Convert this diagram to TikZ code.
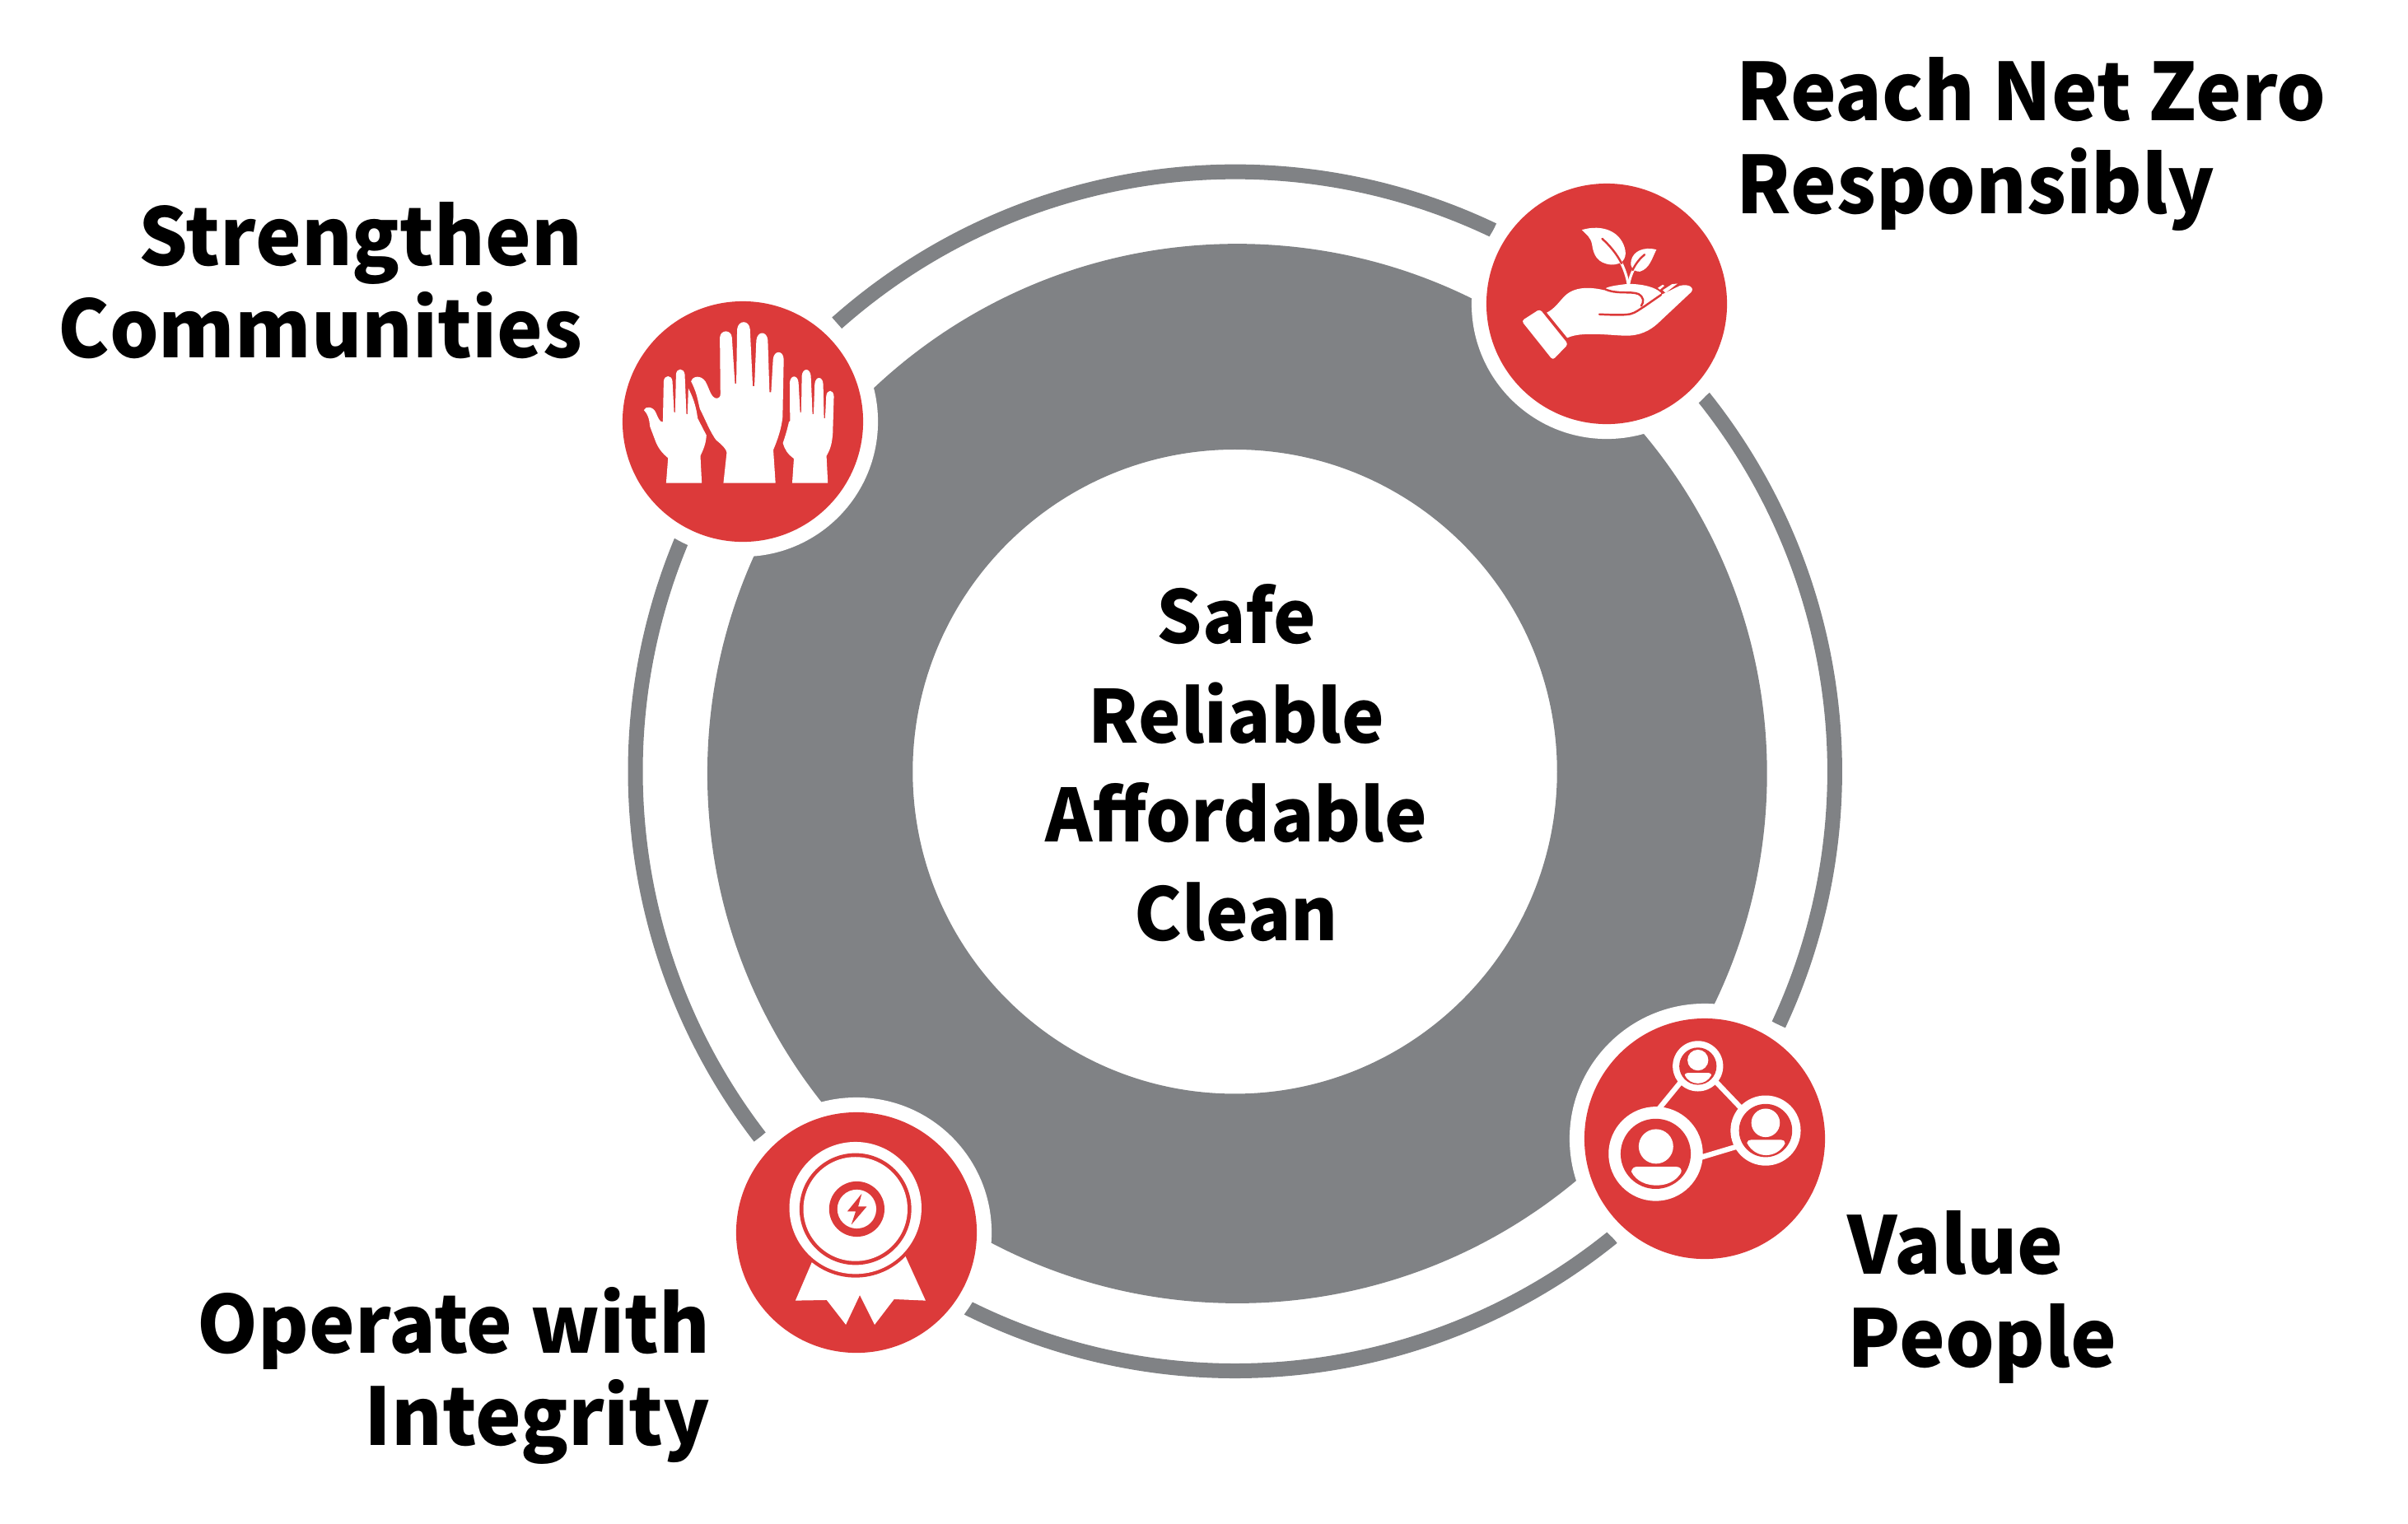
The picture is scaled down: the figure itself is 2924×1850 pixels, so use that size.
\documentclass[tikz,border=0pt]{standalone}
\usepackage{fontspec}
\setmainfont{Noto Sans CJK JP}
\newfontfamily\labelfam{Noto Sans CJK JP}[FakeStretch=0.975]
\newfontfamily\corefam{Noto Sans CJK JP}[FakeStretch=0.98]
\definecolor{iconred}{HTML}{DC3A3A}
\definecolor{ringgray}{HTML}{808285}
\tikzset{
  labeltext/.style={inner sep=0pt,font=\labelfam\fontsize{27.4pt}{31.9pt}\selectfont\bfseries},
  centertext/.style={inner sep=0pt,align=center,font=\corefam\fontsize{25.2pt}{34.2pt}\selectfont\bfseries},
  icon/.style={x=0.003333cm,y=-0.003333cm},
  ic/.style={fill=white,draw=none},
  redfill/.style={fill=iconred,draw=none},
  cut/.style={draw=iconred,line cap=round,line join=round,line width=0.7pt},
  stem/.style={draw=white,line cap=round,line width=0.9pt},
  link/.style={draw=white,line width=1.8pt},
  thinring/.style={draw=ringgray,line width=0.18cm},
  badge/.style={fill=iconred,draw=none},
  halo/.style={fill=white,draw=none}
}
\begin{document}
\begin{tikzpicture}[x=0.01cm,y=-0.01cm]
\useasboundingbox (0,0) rectangle (2924,1850);
\coordinate (C) at (1499.7,936.8);
\coordinate (Cout) at (1502.3,939.5);
\coordinate (Cin) at (1499.5,937.2);
\coordinate (TR) at (1951,369);
\coordinate (TL) at (902,512);
\coordinate (BL) at (1040,1497);
\coordinate (BR) at (2070,1383);
% main ring
\fill[ringgray,even odd rule] (Cout) circle[radius=6.43cm] (Cin) circle[radius=3.91cm];
% thin outer ring segments
\draw[thinring] (C) ++(64.5:7.278cm) arc[start angle=64.5,end angle=131.6,radius=7.278cm];
\draw[thinring] (C) ++(-25:7.278cm) arc[start angle=-25,end angle=38.6,radius=7.278cm];
\draw[thinring] (C) ++(-116.5:7.278cm) arc[start angle=-116.5,end angle=-51,radius=7.278cm];
\draw[thinring] (C) ++(157.4:7.278cm) arc[start angle=157.4,end angle=217.6,radius=7.278cm];
% badges
\foreach \p in {TR,TL,BL,BR}{
  \fill[halo] (\p) circle[radius=1.64cm];
  \fill[badge] (\p) circle[radius=1.46cm];
}
% --- hand with sprout
\begin{scope}[shift={(1780,210)},icon]
\fill[ic,rounded corners=1pt] (203,540) -- (270,497) -- (373,625) -- (317,683) -- cycle;
\fill[ic] (295,510) .. controls (325,495) and (340,470) .. (360,450)
  .. controls (395,415) and (450,415) .. (505,428)
  .. controls (505,415) and (550,410) .. (590,405)
  .. controls (640,405) and (690,415) .. (712,438)
  -- (712,445) -- (780,412) .. controls (815,403) and (835,420) .. (822,435)
  -- (710,540) .. controls (670,580) and (630,595) .. (580,594)
  .. controls (520,592) and (420,578) .. (370,602) -- cycle;
\draw[cut] (505,423) .. controls (550,445) and (600,430) .. (630,442)
  .. controls (650,455) and (650,470) .. (640,485);
\draw[cut] (487,516) .. controls (530,518) and (575,520) .. (600,515)
  .. controls (620,510) and (630,500) .. (650,488) -- (712,445);
\fill[ic] (700,420) -- (718,408) -- (724,412) -- (708,426) -- cycle;
\fill[ic] (718,428) -- (752,406) -- (772,404) -- (728,438) -- cycle;
% leaves
\fill[ic] (423,208) .. controls (500,185) and (570,215) .. (582,285)
  .. controls (585,315) and (570,335) .. (530,335)
  .. controls (480,330) and (465,300) .. (460,260)
  .. controls (455,235) and (440,225) .. cycle;
\fill[ic] (695,280) .. controls (650,268) and (610,285) .. (603,320)
  .. controls (598,345) and (610,360) .. (635,360)
  .. controls (670,350) and (680,310) .. cycle;
\draw[stem] (565,325) .. controls (578,350) and (588,380) .. (592,405);
\draw[stem] (612,352) .. controls (604,368) and (598,385) .. (594,405);
\draw[cut] (497,240) .. controls (525,265) and (550,295) .. (568,330);
\draw[cut] (652,298) .. controls (635,312) and (620,330) .. (608,355);
\end{scope}
% --- raised hands
\begin{scope}[shift={(740,350)},icon]
\fill[ic] (298,340) .. controls (305,318) and (335,318) .. (350,340)
  .. controls (365,365) and (370,402) .. (392,402) .. controls (402,400) and (405,395) .. (405,385)
  -- (403,180) .. controls (405,150) and (445,150) .. (447,180) -- (458,348) -- (463,348)
  -- (466,150) .. controls (470,115) and (510,115) .. (513,150) -- (523,358) -- (529,358)
  -- (536,190) .. controls (540,155) and (575,155) .. (578,190) -- (584,380) -- (590,380)
  -- (597,260) .. controls (600,225) and (635,225) .. (636,260) -- (632,470)
  .. controls (628,510) and (615,550) .. (598,590) -- (606,711) -- (416,711) -- (428,600)
  .. controls (428,590) and (410,570) .. (390,555) .. controls (370,530) and (350,480) .. (330,440)
  .. controls (320,400) and (320,385) .. cycle;
\fill[ic] (126,445) .. controls (130,430) and (160,430) .. (170,455)
  .. controls (178,475) and (185,490) .. (195,488)
  -- (198,340) .. controls (200,315) and (228,315) .. (230,340) -- (236,453) -- (240,453)
  -- (243,315) .. controls (245,290) and (272,290) .. (275,315) -- (281,460) -- (285,460)
  -- (288,365) .. controls (300,390) and (315,420) .. (322,475) -- (354,537)
  .. controls (352,570) and (342,590) .. (332,612) -- (337,711) -- (207,711) -- (214,620)
  .. controls (190,600) and (175,580) .. (165,550) -- (148,505) .. controls (145,475) and (140,460) .. cycle;
\fill[ic] (633,565) .. controls (645,530) and (650,510) .. (655,488) -- (659,485)
  -- (658,345) .. controls (660,315) and (688,315) .. (690,345) -- (696,453) -- (700,453)
  -- (702,320) .. controls (705,290) and (732,290) .. (735,320) -- (741,460) -- (745,460)
  -- (749,350) .. controls (752,320) and (778,320) .. (780,350) -- (783,475) -- (787,475)
  -- (791,395) .. controls (793,368) and (818,368) .. (819,395) -- (815,530)
  .. controls (812,570) and (805,590) .. (792,612) -- (797,711) -- (667,711) -- (673,622)
  .. controls (650,605) and (640,590) .. cycle;
\end{scope}
% --- award rosette
\begin{scope}[shift={(880,1330)},icon]
\fill[ic] (318,610) -- (258,750) -- (372,748) -- (442,838) -- (493,730) -- (547,838) -- (618,745) -- (733,750) -- (658,585) -- cycle;
\fill[redfill] (477,412) circle[radius=254];
\fill[ic] (477,412) circle[radius=241];
\fill[redfill] (477,416) circle[radius=204];
\fill[ic] (477,416) circle[radius=190];
\fill[redfill] (482,416) circle[radius=101];
\fill[ic] (482,416) circle[radius=71];
\fill[redfill] (500,360) -- (447,425) -- (478,425) -- (462,473) -- (518,407) -- (487,407) -- cycle;
\end{scope}
% --- people network
\begin{scope}[shift={(1900,1215)},icon]
\coordinate (pa) at (332,560);
\coordinate (pb) at (733,475);
\coordinate (pc) at (486,240);
\coordinate (ac1) at (340,400);
\coordinate (ac2) at (430,290);
\coordinate (cb1) at (545,290);
\coordinate (cb2) at (650,400);
\coordinate (ab1) at (490,575);
\coordinate (ab2) at (640,530);
\draw[link] (ac1) -- (ac2);
\draw[link] (cb1) -- (cb2);
\draw[link] (ab1) -- (ab2);
\fill[ic] (pa) circle[radius=172];
\fill[redfill] (pa) circle[radius=128];
\fill[ic] (333,533) circle[radius=63];
\fill[ic] (243,625) .. controls (245,612) and (255,607) .. (265,607) -- (405,607)
  .. controls (420,607) and (428,615) .. (425,628) .. controls (405,662) and (370,675) .. (335,675)
  .. controls (300,675) and (262,662) .. cycle;
\fill[ic] (pb) circle[radius=128];
\fill[redfill] (pb) circle[radius=97];
\fill[ic] (733,447) circle[radius=52];
\fill[ic] (665,520) .. controls (667,512) and (672,509) .. (680,509) -- (790,509)
  .. controls (798,509) and (804,513) .. (804,522) .. controls (790,550) and (762,565) .. (735,565)
  .. controls (708,565) and (680,550) .. cycle;
\fill[ic] (pc) circle[radius=92];
\fill[redfill] (pc) circle[radius=68];
\fill[ic] (486,218) circle[radius=38];
\fill[ic] (438,272) .. controls (439,267) and (443,265) .. (448,265) -- (526,265)
  .. controls (531,265) and (535,268) .. (535,273) .. controls (525,293) and (505,303) .. (486,303)
  .. controls (467,303) and (447,293) .. cycle;
\end{scope}
% --- texts
\node[centertext,anchor=base] (core) at (1501.5,1142.7) {Safe\\Reliable\\Affordable\\Clean};
\node[labeltext,align=left,anchor=base west] (net) at (2108,259) {Reach Net Zero\\Responsibly};
\node[labeltext,align=right,anchor=base east] (comm) at (708,434.5) {Strengthen\\Communities};
\node[labeltext,align=right,anchor=base east] (integ) at (863,1755.5) {Operate with\\Integrity};
\node[labeltext,align=left,anchor=base west] (people) at (2243,1660) {Value\\People};
\end{tikzpicture}
\end{document}
